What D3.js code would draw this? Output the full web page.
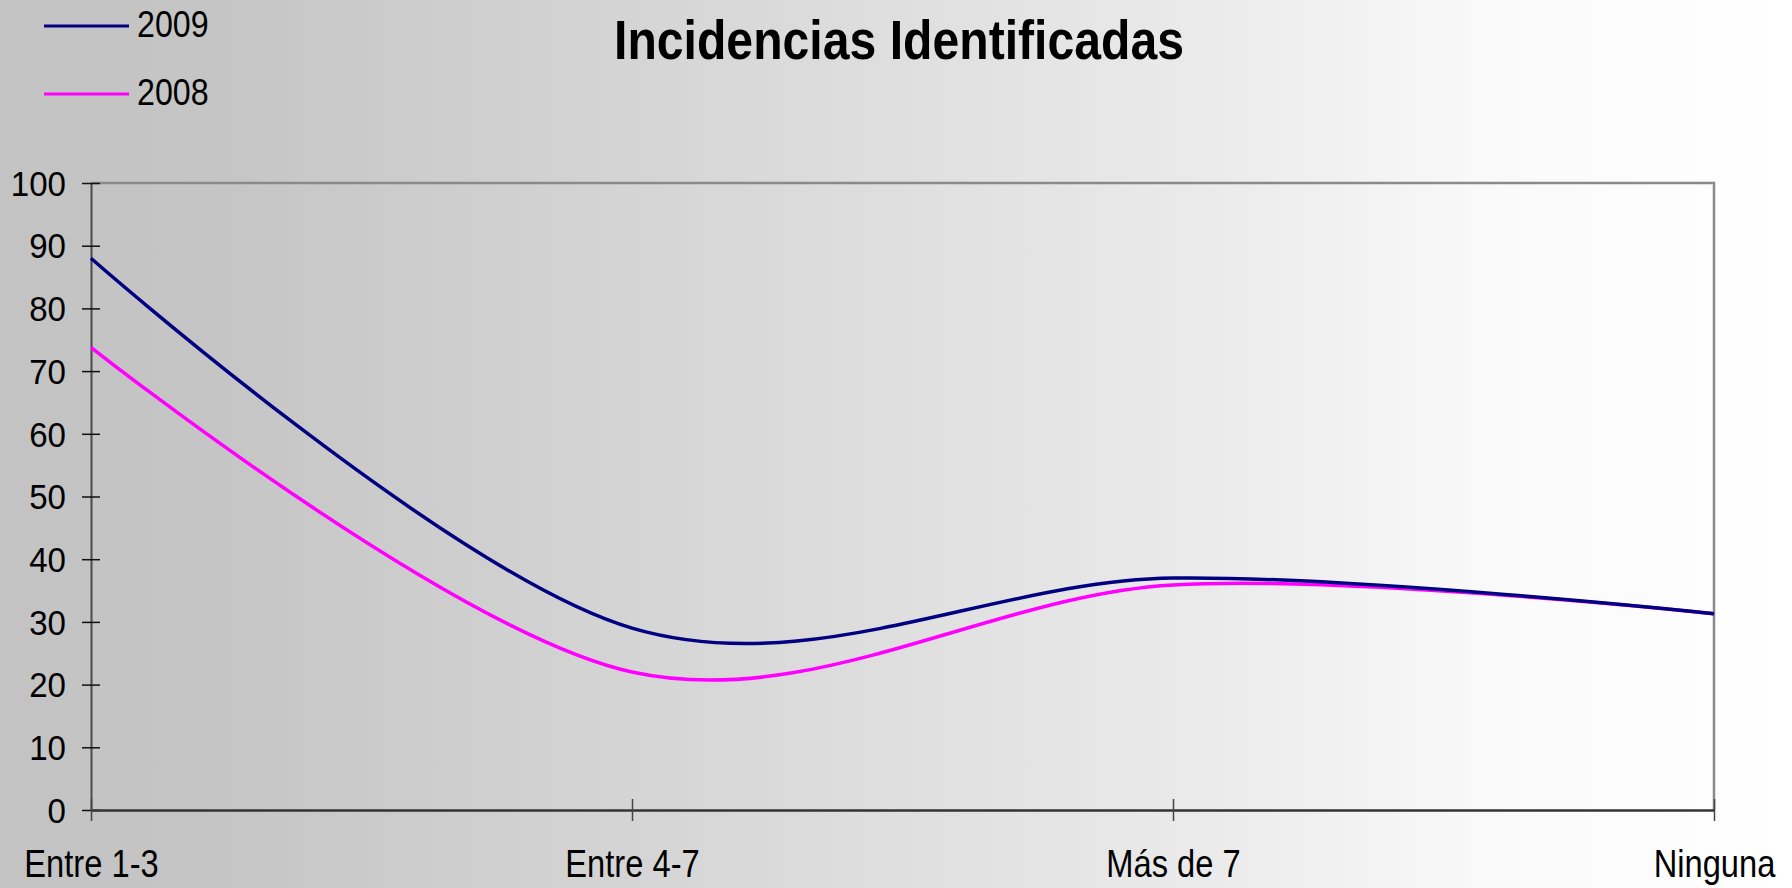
<!DOCTYPE html>
<html>
<head>
<meta charset="utf-8">
<script src="https://cdn.jsdelivr.net/npm/d3@7"></script>
<style>
  html, body { margin: 0; padding: 0; overflow: hidden; }
  svg { display: block; font-family: "Liberation Sans", Arial, sans-serif; }
</style>
</head>
<body>
<div id="vis"></div>
<script>
// chart data
let categories = ['Entre 1-3', 'Entre 4-7', 'Más de 7', 'Ninguna'];
let values2009 = [88, 29, 37, 31.3];
let values2008 = [73.8, 22, 35.9, 31.3];
let seriesNames = ['2009', '2008'];
let yTicks = [0, 10, 20, 30, 40, 50, 60, 70, 80, 90, 100];
let titleText = 'Incidencias Identificadas';

// size of the page and of the plot area
let width = 1792;
let height = 888;
let plot = { left: 91, right: 1714, top: 183, bottom: 810 };

let colors = { '2009': '#000080', '2008': '#ff00ff' };

let series = [
  { name: seriesNames[0], values: values2009 },
  { name: seriesNames[1], values: values2008 }
];

let svg = d3.select('#vis').append('svg')
  .attr('width', width)
  .attr('height', height);

// grey to white background
let grad = svg.append('defs').append('linearGradient')
  .attr('id', 'bg')
  .attr('x1', 0).attr('x2', 1).attr('y1', 0).attr('y2', 0);
[[0, '#c3c3c3'], [0.12, '#c5c5c5'], [0.36, '#d5d5d5'], [0.68, '#ebebeb'], [0.84, '#fafafa'], [1, '#ffffff']]
  .forEach(function (s) {
    grad.append('stop').attr('offset', s[0]).attr('stop-color', s[1]);
  });

svg.append('rect')
  .attr('width', width)
  .attr('height', height)
  .attr('fill', 'url(#bg)');

let x = d3.scalePoint()
  .domain(categories)
  .range([plot.left, plot.right]);

let y = d3.scaleLinear()
  .domain([0, 100])
  .range([plot.bottom, plot.top]);

// top and right border of the plot area
svg.append('path')
  .attr('d', 'M' + plot.left + ',' + y(100) + 'H' + plot.right + 'V' + y(0))
  .attr('fill', 'none')
  .attr('stroke', '#8a8a8a')
  .attr('stroke-width', 2.5);

// y axis
let yAxis = svg.append('g')
  .attr('class', 'y axis')
  .attr('transform', 'translate(' + plot.left + ',0)')
  .call(d3.axisLeft(y).tickValues(yTicks).tickSize(9).tickSizeOuter(0));

yAxis.select('.domain')
  .attr('stroke', '#4a4a4a')
  .attr('stroke-width', 2);
yAxis.selectAll('.tick line')
  .attr('x1', 9)
  .attr('x2', -9)
  .attr('stroke', '#111')
  .attr('stroke-width', 1.5);
yAxis.selectAll('.tick text')
  .attr('x', 0)
  .attr('dy', '0.34em')
  .attr('transform', 'translate(-25,0) scale(0.92,1)')
  .attr('font-size', 36)
  .attr('font-family', '"Liberation Sans", Arial, sans-serif')
  .attr('fill', '#000');

// x axis
let xAxis = svg.append('g')
  .attr('class', 'x axis')
  .attr('transform', 'translate(0,' + plot.bottom + ')')
  .call(d3.axisBottom(x).tickSize(11).tickSizeOuter(0));

xAxis.select('.domain')
  .attr('stroke', '#333')
  .attr('stroke-width', 2.5);
xAxis.selectAll('.tick line')
  .attr('y1', -11)
  .attr('y2', 11)
  .attr('stroke', '#444')
  .attr('stroke-width', 1.5);
xAxis.selectAll('.tick text')
  .attr('y', 0)
  .attr('dy', 0)
  .attr('transform', 'translate(0,67) scale(0.86,1)')
  .attr('font-size', 38)
  .attr('font-family', '"Liberation Sans", Arial, sans-serif')
  .attr('fill', '#000');

// smoothed lines, same look as the office spline
let line = d3.line()
  .curve(d3.curveCardinal.tension(0))
  .x((d, i) => x(categories[i]))
  .y(d => y(d));

svg.selectAll('.trendline')
  .data(series.slice().reverse())
  .enter().append('path')
  .attr('class', 'trendline')
  .attr('d', d => line(d.values))
  .attr('fill', 'none')
  .attr('stroke', d => colors[d.name])
  .attr('stroke-width', 3.5)
  .attr('stroke-linejoin', 'round');

// legend, top left
let legend = svg.selectAll('.legend')
  .data(series)
  .enter().append('g')
  .attr('class', 'legend')
  .attr('transform', (d, i) => 'translate(44,' + (26 + i * 68) + ')');

legend.append('line')
  .attr('x1', 0)
  .attr('x2', 85)
  .attr('stroke', d => colors[d.name])
  .attr('stroke-width', 3.2);

legend.append('text')
  .attr('transform', 'translate(93,11) scale(0.87,1)')
  .attr('font-size', 37)
  .attr('fill', '#000')
  .text(d => d.name);

// title
svg.append('text')
  .attr('transform', 'translate(899,59) scale(0.86,1)')
  .attr('text-anchor', 'middle')
  .attr('font-size', 56)
  .attr('font-weight', 'bold')
  .attr('fill', '#000')
  .text(titleText);
</script>
</body>
</html>
